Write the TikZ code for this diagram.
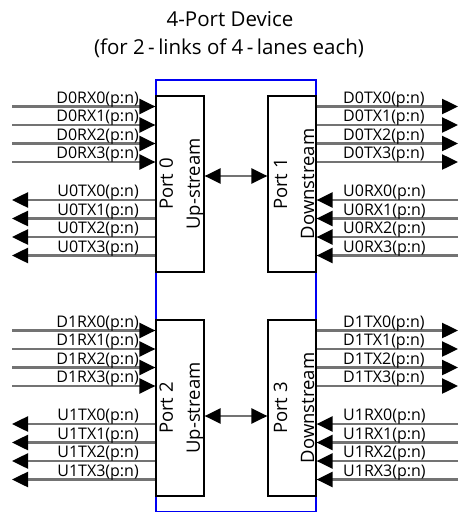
\documentclass[tikz,border=0pt]{standalone}
\usepackage{fontspec}
\setmainfont{Open Sans}
\usetikzlibrary{arrows.meta}
\definecolor{sigcol}{rgb}{0.45,0.45,0.45}
\definecolor{devblue}{rgb}{0,0,0.95}
\tikzset{
  sig/.style={draw=sigcol, line width=2.5pt},
  tipend/.style={-{Triangle[length=16pt,width=15pt,color=black]}},
  tipboth/.style={{Triangle[length=16pt,width=15pt,color=black]}-{Triangle[length=16pt,width=15pt,color=black]}},
  portbox/.style={draw=black, line width=1.2pt, fill=white, minimum width=48pt, minimum height=176pt, inner sep=0pt},
  lbl/.style={inner sep=0pt, font=\fontsize{16}{16}\selectfont},
  boxtxt/.style={rotate=90, align=center, inner sep=0pt, font=\fontsize{18.5}{27}\selectfont},
  ttl/.style={inner sep=0pt, font=\fontsize{20.5}{20}\selectfont}
}
\begin{document}
\begin{tikzpicture}[x=1pt,y=-1pt]
\useasboundingbox (0,0) rectangle (458,514);
% title
\node[ttl, anchor=base] (t1) at (230,26) {4-Port Device};
\node[ttl, anchor=base] (t2) at (229,54) {(for 2\,-\,links of 4\,-\,lanes each)};
% device outline
\draw[devblue, line width=1.2pt] (156,80) rectangle (316,511.5);
% port boxes
\node[portbox] (p0) at (180,184) {};
\node[portbox] (p1) at (292,184) {};
\node[portbox] (p2) at (180,408) {};
\node[portbox] (p3) at (292,408) {};
\node[boxtxt] (p0t) at (182,184) {Port 0\\Up-stream};
\node[boxtxt] (p1t) at (294,184) {Port 1\\Downstream};
\node[boxtxt] (p2t) at (182,408) {Port 2\\Up-stream};
\node[boxtxt] (p3t) at (294,408) {Port 3\\Downstream};
% inter-port arrows
\draw[sig, tipboth] (p0.east |- 0,176) coordinate (m0a) -- (p1.west |- 0,176) coordinate (m0b);
\draw[sig, tipboth] (p2.east |- 0,416) coordinate (m1a) -- (p3.west |- 0,416) coordinate (m1b);
% lanes
\foreach \top/\lnk/\pl/\pr in {96/0/p0/p1, 320/1/p2/p3}{
  \foreach \i/\off in {0/10.5, 1/29, 2/47.5, 3/66}{
    \pgfmathsetmacro{\yy}{\top+\off}
    \coordinate (dl\lnk\i) at (12,\yy);
    \coordinate (dr\lnk\i) at (458,\yy);
    \draw[sig, tipend] (dl\lnk\i) -- (\pl.west |- dl\lnk\i);
    \draw[sig, tipend] (\pr.east |- dr\lnk\i) -- (dr\lnk\i);
    \node[lbl, anchor=base east] (ldrx\lnk\i) at (139,\yy-3.5) {D\lnk RX\i(p:n)};
    \node[lbl, anchor=base west] (ldtx\lnk\i) at (343,\yy-3.5) {D\lnk TX\i(p:n)};
  }
  \foreach \i/\off in {0/104, 1/122.5, 2/141, 3/159.5}{
    \pgfmathsetmacro{\yy}{\top+\off}
    \coordinate (ul\lnk\i) at (12,\yy);
    \coordinate (ur\lnk\i) at (458,\yy);
    \draw[sig, tipend] (\pl.west |- ul\lnk\i) -- (ul\lnk\i);
    \draw[sig, tipend] (ur\lnk\i) -- (\pr.east |- ur\lnk\i);
    \node[lbl, anchor=base east] (lutx\lnk\i) at (139,\yy-3.5) {U\lnk TX\i(p:n)};
    \node[lbl, anchor=base west] (lurx\lnk\i) at (343,\yy-3.5) {U\lnk RX\i(p:n)};
  }
}
\end{tikzpicture}
\end{document}
